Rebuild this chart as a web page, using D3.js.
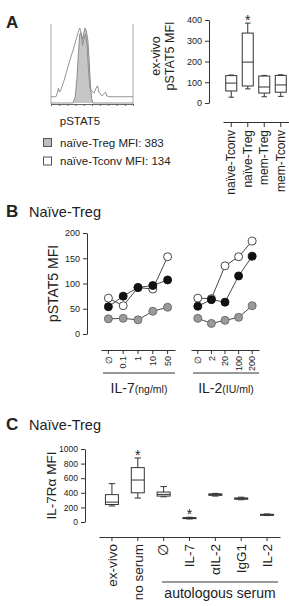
<!DOCTYPE html>
<html>
<head>
<meta charset="utf-8">
<script src="https://cdn.jsdelivr.net/npm/d3@7"></script>
<style>
  body { margin: 0; background: #fff; }
  svg text { font-family: "Liberation Sans", Arial, sans-serif; fill: #222; }
</style>
</head>
<body>
<div id="chart"></div>
<script>
// ---- data ----
// A: overlay histogram, [channel, count]
const tconvHist = [[0, 8], [6, 8], [8, 14], [9, 19], [10.4, 14], [12, 17], [16, 29], [19.5, 42], [23, 55], [27, 68],
  [30.5, 81], [33, 90], [35, 96], [36.5, 91], [38.5, 74], [40, 81], [42, 88], [44, 74], [45.7, 42], [47.5, 19],
  [50, 15], [52.5, 13], [55, 19], [56.7, 22], [58.5, 14], [62, 9], [65, 12], [66.5, 14], [68, 9], [72, 8], [100, 8]];
const tregHist = [[0, 0], [27, 0], [29.5, 8], [31.5, 30], [33.5, 65], [35, 88], [36.5, 90], [38.5, 82], [40, 90],
  [41.5, 96], [43, 93], [45, 80], [46.5, 55], [48, 25], [49.5, 6], [51, 0], [100, 0]];
const legendLabels = ["naïve-Treg MFI: 383", "naïve-Tconv MFI: 134"];

// A: box plot [min, q1, median, q3, max]
const aCategories = ["naïve-Tconv", "naïve-Treg", "mem-Treg", "mem-Tconv"];
const aBoxes = [[28, 58, 96, 132, 135], [68, 82, 197, 337, 385], [30, 48, 77, 130, 133], [32, 52, 87, 133, 136]];
const aStars = ["naïve-Treg"];
const aTicks = [0, 100, 200, 300, 400];

// B: dose responses
const il7Doses = ["∅", "0.1", "1", "10", "50"];
const il2Doses = ["∅", "2", "20", "100", "200"];
const il7Open = [71, 56, 92, 89, 153];
const il7Filled = [54, 75, 92, 96, 107];
const il7Gray = [30, 31, 28, 45, 53];
const il2Open = [71, 70, 135, 153, 184];
const il2Filled = [55, 68, 63, 115, 154];
const il2Gray = [31, 21, 27, 33, 56];
const bTicks = [0, 50, 100, 150, 200];

// C: box plot
const cCategories = ["ex-vivo", "no serum", "∅", "IL-7", "αIL-2", "IgG1", "IL-2"];
const cBoxes = [[220, 240, 272, 375, 525], [328, 400, 575, 745, 877], [345, 355, 378, 410, 485], [42, 48, 55, 60, 65],
  [355, 365, 378, 385, 392], [305, 312, 320, 330, 340], [88, 95, 100, 105, 110]];
const cStars = ["no serum", "IL-7"];
const cTicks = [0, 200, 400, 600, 800, 1000];

const ink = "#333";

const svg = d3.select("#chart")
  .append("svg")
  .attr("width", 289)
  .attr("height", 606);

function styleAxis(g, fontSize) {
  g.selectAll("path, line").attr("stroke", ink).attr("stroke-width", 1);
  g.selectAll("text").style("font-size", fontSize + "px").attr("fill", ink).style("font-family", "Liberation Sans, Arial, sans-serif");
}

function panelTitle(letter, y, sub) {
  svg.append("text")
    .attr("x", 6).attr("y", y)
    .style("font-size", "17px").style("font-weight", "bold")
    .text(letter);
  if (sub) {
    svg.append("text")
      .attr("x", 29).attr("y", y)
      .style("font-size", "14.5px")
      .text(sub);
  }
}

function drawBoxes(data, cats, x, y, w, stars) {
  data.forEach((b, i) => {
    const cx = x(cats[i]) + x.bandwidth() / 2;
    const g = svg.append("g").attr("stroke", ink).attr("stroke-width", 1).attr("fill", "none");
    g.append("line").attr("x1", cx).attr("x2", cx).attr("y1", y(b[0])).attr("y2", y(b[1]));
    g.append("line").attr("x1", cx).attr("x2", cx).attr("y1", y(b[3])).attr("y2", y(b[4]));
    g.append("line").attr("x1", cx - w / 4).attr("x2", cx + w / 4).attr("y1", y(b[0])).attr("y2", y(b[0]));
    g.append("line").attr("x1", cx - w / 4).attr("x2", cx + w / 4).attr("y1", y(b[4])).attr("y2", y(b[4]));
    g.append("rect")
      .attr("x", cx - w / 2).attr("width", w)
      .attr("y", y(b[3])).attr("height", Math.max(1, y(b[1]) - y(b[3])))
      .attr("fill", "#fff");
    g.append("line").attr("x1", cx - w / 2).attr("x2", cx + w / 2).attr("y1", y(b[2])).attr("y2", y(b[2]));
    if (stars.includes(cats[i])) {
      svg.append("text")
        .attr("x", cx).attr("y", y(b[4]) + 2)
        .attr("text-anchor", "middle")
        .style("font-size", "14px")
        .text("*");
    }
  });
}

function rotatedLabels(g, offset, fontSize) {
  g.selectAll(".tick text")
    .attr("transform", "rotate(-90)")
    .attr("x", -offset)
    .attr("y", 0)
    .attr("dy", "0.35em")
    .style("text-anchor", "end")
    .style("font-size", fontSize + "px");
}

// ================= Panel A =================
panelTitle("A", 28);

const histX = d3.scaleLinear().domain([0, 100]).range([51, 133]);
const histY = d3.scaleLinear().domain([0, 100]).range([103, 25]);

svg.append("line").attr("x1", 51).attr("x2", 51).attr("y1", 24).attr("y2", 104).attr("stroke", "#aaa");
svg.append("line").attr("x1", 133).attr("x2", 133).attr("y1", 24).attr("y2", 104).attr("stroke", "#aaa");

const histLine = d3.line().x(d => histX(d[0])).y(d => histY(d[1])).curve(d3.curveLinear);
svg.append("path")
  .datum(tregHist)
  .attr("fill", "#c6c6c6")
  .attr("stroke", "#777")
  .attr("stroke-width", 0.8)
  .attr("d", histLine);
svg.append("path")
  .datum(tconvHist)
  .attr("fill", "none")
  .attr("stroke", "#888")
  .attr("stroke-width", 0.9)
  .attr("d", histLine);

const histAxis = svg.append("g")
  .attr("transform", "translate(0,104)")
  .call(d3.axisBottom(histX).ticks(12).tickFormat("").tickSize(2).tickSizeOuter(0));
styleAxis(histAxis, 8);
histAxis.selectAll("path, line").attr("stroke", "#666");

svg.append("text")
  .attr("x", 80).attr("y", 125)
  .attr("text-anchor", "middle")
  .style("font-size", "11.5px")
  .text("pSTAT5");

legendLabels.forEach((t, i) => {
  svg.append("rect")
    .attr("x", 43.5).attr("y", 138.5 + i * 18.5)
    .attr("width", 8).attr("height", 8)
    .attr("fill", i === 0 ? "#bdbdbd" : "#fff")
    .attr("stroke", "#555");
  svg.append("text")
    .attr("x", 60).attr("y", 147 + i * 18)
    .style("font-size", "11.5px")
    .text(t);
});

const xA = d3.scaleBand().domain(aCategories).range([223, 289]).padding(0);
const yA = d3.scaleLinear().domain([0, 400]).range([103, 20]);

const yAxisA = svg.append("g")
  .attr("transform", "translate(209,0)")
  .call(d3.axisLeft(yA).tickValues(aTicks).tickSize(4).tickSizeOuter(0));
styleAxis(yAxisA, 9);

drawBoxes(aBoxes, aCategories, xA, yA, 11, aStars);

const xAxisA = svg.append("g")
  .attr("transform", "translate(0,122)")
  .call(d3.axisBottom(xA).tickSize(5).tickSizeOuter(0));
styleAxis(xAxisA, 12);
rotatedLabels(xAxisA, 8, 12);

svg.append("text")
  .attr("transform", "translate(160,56) rotate(-90)")
  .attr("text-anchor", "middle")
  .style("font-size", "12.5px")
  .text("ex-vivo");
svg.append("text")
  .attr("transform", "translate(174,56) rotate(-90)")
  .attr("text-anchor", "middle")
  .style("font-size", "12.5px")
  .text("pSTAT5 MFI");

// ================= Panel B =================
panelTitle("B", 217, "Naïve-Treg");

const yB = d3.scaleLinear().domain([0, 200]).range([334, 233]);
const yAxisB = svg.append("g")
  .attr("transform", "translate(87,0)")
  .call(d3.axisLeft(yB).tickValues(bTicks).tickSize(4).tickSizeOuter(0));
styleAxis(yAxisB, 9);

svg.append("text")
  .attr("transform", `translate(58,${(yB(0) + yB(200)) / 2}) rotate(-90)`)
  .attr("text-anchor", "middle")
  .style("font-size", "14px")
  .text("pSTAT5 MFI");

const xIL7 = d3.scaleBand().domain(il7Doses).range([101, 175]);
const xIL2 = d3.scaleBand().domain(il2Doses).range([191, 259]);

function drawSeries(x, doses, values, fill, stroke) {
  const pts = values.map((v, i) => [x(doses[i]) + x.bandwidth() / 2, yB(v)]);
  svg.append("path")
    .datum(pts)
    .attr("fill", "none")
    .attr("stroke", ink)
    .attr("stroke-width", 0.9)
    .attr("d", d3.line());
  svg.selectAll(null)
    .data(pts)
    .join("circle")
    .attr("cx", d => d[0])
    .attr("cy", d => d[1])
    .attr("r", 4)
    .attr("fill", fill)
    .attr("stroke", stroke)
    .attr("stroke-width", 0.9);
}

[[xIL7, il7Doses, il7Gray, il7Open, il7Filled], [xIL2, il2Doses, il2Gray, il2Open, il2Filled]].forEach(([x, doses, gray, open, filled]) => {
  drawSeries(x, doses, gray, "#9a9a9a", "#666");
  drawSeries(x, doses, open, "#fff", ink);
  drawSeries(x, doses, filled, "#111", "#111");

  const ax = svg.append("g")
    .attr("transform", "translate(0,350)")
    .call(d3.axisBottom(x).tickSize(4).tickSizeOuter(0));
  styleAxis(ax, 9);
  rotatedLabels(ax, 6, 9);

  svg.append("line")
    .attr("x1", x.range()[0] + 2).attr("x2", x.range()[1])
    .attr("y1", 373).attr("y2", 373)
    .attr("stroke", ink);
});

const bLabels = [["IL-7", "(ng/ml)", xIL7], ["IL-2", "(IU/ml)", xIL2]];
bLabels.forEach(([main, unit, x]) => {
  const t = svg.append("text")
    .attr("x", (x.range()[0] + x.range()[1]) / 2 + 1)
    .attr("y", 393)
    .attr("text-anchor", "middle");
  t.append("tspan").style("font-size", "14px").text(main);
  t.append("tspan").style("font-size", "10.5px").text(unit);
});

// ================= Panel C =================
panelTitle("C", 430, "Naïve-Treg");

const yC = d3.scaleLinear().domain([0, 1000]).range([522, 449]);
const yAxisC = svg.append("g")
  .attr("transform", "translate(85,0)")
  .call(d3.axisLeft(yC).tickValues(cTicks).tickFormat(d3.format("d")).tickSize(4).tickSizeOuter(0));
styleAxis(yAxisC, 8.5);

svg.append("text")
  .attr("transform", `translate(56,${(yC(0) + yC(1000)) / 2}) rotate(-90)`)
  .attr("text-anchor", "middle")
  .style("font-size", "13.5px")
  .text("IL-7Rα MFI");

const xC = d3.scaleBand().domain(cCategories).range([99, 280]);
drawBoxes(cBoxes, cCategories, xC, yC, 13, cStars);

const xAxisC = svg.append("g")
  .attr("transform", "translate(0,537)")
  .call(d3.axisBottom(xC).tickSize(4).tickSizeOuter(0));
styleAxis(xAxisC, 13);
rotatedLabels(xAxisC, 7, 13.5);

svg.append("line")
  .attr("x1", 162).attr("x2", 278)
  .attr("y1", 582).attr("y2", 582)
  .attr("stroke", ink);
svg.append("text")
  .attr("x", 220).attr("y", 598)
  .attr("text-anchor", "middle")
  .style("font-size", "14px")
  .text("autologous serum");
</script>
</body>
</html>
